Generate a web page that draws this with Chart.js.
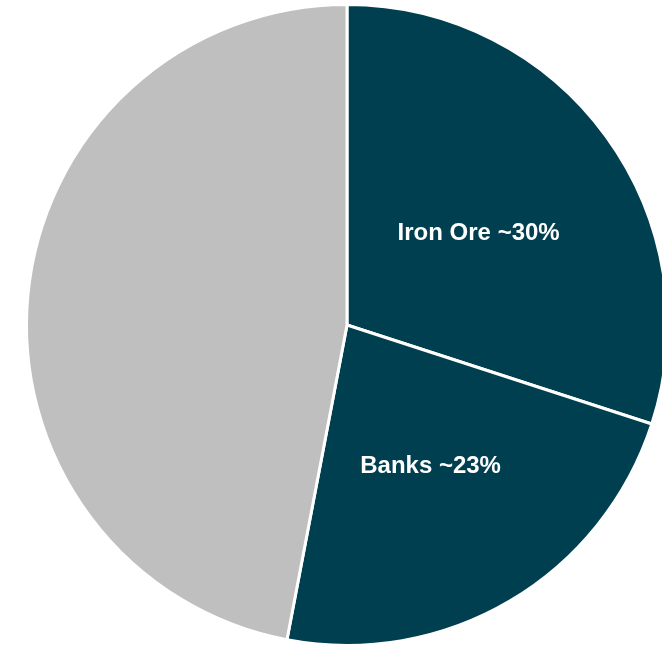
<!DOCTYPE html>
<html>
<head>
<meta charset="utf-8">
<script src="https://cdn.jsdelivr.net/npm/chart.js@4/dist/chart.umd.min.js"></script>
<style>
  html, body { margin: 0; padding: 0; background: #ffffff; overflow: hidden; }
  body { width: 662px; height: 645px; position: relative; }
  #wrap { position: absolute; left: 0; top: 0; width: 694px; height: 650px; }
</style>
</head>
<body>
<div id="wrap"><canvas id="pie"></canvas></div>
<script>
// Exposure breakdown
const categories = ['Iron Ore', 'Banks', 'Other'];
const shares = [30, 23, 47];
const sliceLabels = ['Iron Ore ~30%', 'Banks ~23%', ''];
const sliceColors = ['#003F4F', '#003F4F', '#BFBFBF'];

// Writes each slice's label at the middle of its arc
const sliceLabelPlugin = {
  id: 'sliceLabels',
  afterDatasetsDraw(chart) {
    const ctx = chart.ctx;
    const meta = chart.getDatasetMeta(0);
    ctx.save();
    ctx.font = 'bold 24px "Liberation Sans", Arial, sans-serif';
    ctx.fillStyle = '#ffffff';
    ctx.textAlign = 'center';
    ctx.textBaseline = 'middle';
    meta.data.forEach((arc, i) => {
      if (!sliceLabels[i]) return;
      const p = arc.tooltipPosition();
      ctx.fillText(sliceLabels[i], p.x + 2, p.y + 3);
    });
    ctx.restore();
  }
};

new Chart(document.getElementById('pie'), {
  type: 'pie',
  data: {
    labels: categories,
    datasets: [{
      data: shares,
      backgroundColor: sliceColors,
      borderColor: '#ffffff',
      borderWidth: 3
    }]
  },
  options: {
    responsive: true,
    maintainAspectRatio: false,
    animation: false,
    layout: { padding: 3 },
    plugins: {
      legend: { display: false },
      tooltip: { enabled: false }
    }
  },
  plugins: [sliceLabelPlugin]
});
</script>
</body>
</html>
